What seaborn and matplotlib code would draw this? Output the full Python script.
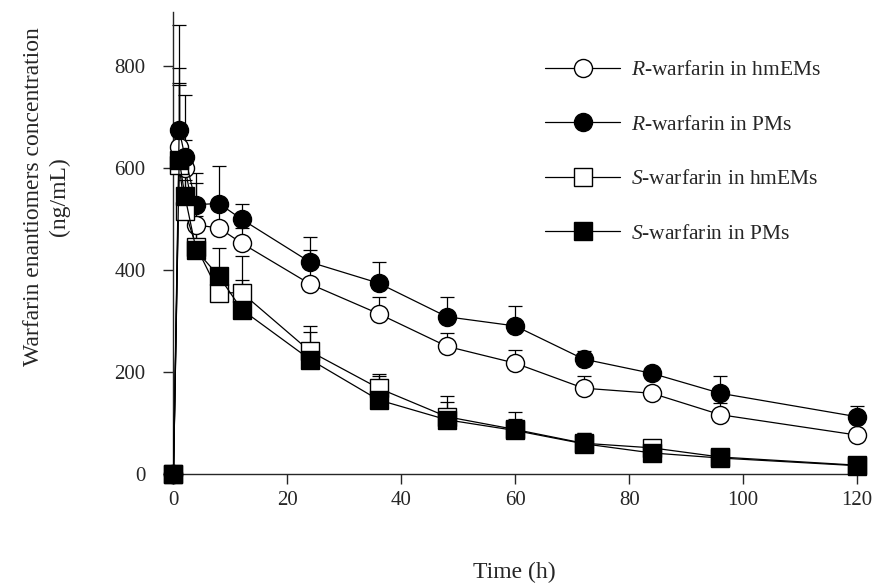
import numpy as np
import matplotlib
matplotlib.use("Agg")
import matplotlib.pyplot as plt
import seaborn as sns

# sampling times (h)
time = [0, 1, 2, 4, 8, 12, 24, 36, 48, 60, 72, 84, 96, 120]

# mean concentrations (ng/mL)
r_hmem = [0, 640, 600, 488, 482, 452, 372, 314, 250, 217, 168, 158, 116, 76]
r_pm = [0, 675, 622, 528, 530, 499, 415, 374, 308, 290, 225, 197, 158, 112]
s_hmem = [0, 605, 516, 445, 355, 355, 240, 168, 112, 87, 60, 51, 33, 17]
s_pm = [0, 616, 545, 438, 387, 322, 224, 145, 106, 85, 59, 41, 31, 16]

# upper SD bars
r_hmem_sd = [0, 156, 55, 82, 40, 30, 67, 32, 27, 26, 24, 0, 23, 10]
r_pm_sd = [0, 205, 121, 62, 73, 31, 50, 42, 38, 39, 15, 8, 34, 21]
s_hmem_sd = [0, 158, 60, 60, 45, 73, 50, 28, 40, 20, 20, 16, 8, 5]
s_pm_sd = [0, 150, 80, 50, 56, 58, 55, 46, 34, 37, 21, 10, 8, 5]

labels = [r"$\it{R}$-warfarin in hmEMs", r"$\it{R}$-warfarin in PMs",
          r"$\it{S}$-warfarin in hmEMs", r"$\it{S}$-warfarin in PMs"]

sns.set_style("ticks")
plt.rcParams["font.family"] = ["Liberation Serif", "DejaVu Serif"]
plt.rcParams["mathtext.fontset"] = "custom"
plt.rcParams["mathtext.it"] = "Liberation Serif:italic"
plt.rcParams["mathtext.rm"] = "Liberation Serif"

fig = plt.figure(figsize=(8.74, 5.85), dpi=100)
ax = fig.add_axes([0.1985, 0.19, 0.782, 0.789])

series = [
    (r_hmem, r_hmem_sd, "o", "white"),
    (r_pm, r_pm_sd, "o", "black"),
    (s_hmem, s_hmem_sd, "s", "white"),
    (s_pm, s_pm_sd, "s", "black"),
]

for (vals, sd, mk, face), lab in zip(series, labels):
    ax.errorbar(time, vals, yerr=[np.zeros(len(sd)), sd], fmt="none",
                ecolor="black", elinewidth=0.9, capsize=5, capthick=0.9,
                zorder=1, clip_on=False)
    sns.lineplot(x=time, y=vals, ax=ax, color="black", linewidth=0.9,
                 marker=mk, markersize=13, markerfacecolor=face,
                 markeredgecolor="black", markeredgewidth=1.0,
                 label=lab, clip_on=False, zorder=3)

ax.set_xlim(0, 120)
ax.set_ylim(0, 905)
ax.set_xticks(range(0, 121, 20))
ax.set_yticks(range(0, 801, 200))
sns.despine(ax=ax)
ax.spines["left"].set_linewidth(1.0)
ax.spines["bottom"].set_linewidth(1.0)
ax.tick_params(axis="y", direction="out", length=7, width=1.0, pad=13, labelsize=15)
ax.tick_params(axis="x", direction="out", length=7, width=1.0, pad=5, labelsize=15)

ax.set_xlabel("Time (h)", fontsize=17)
ax.xaxis.set_label_coords(0.498, -0.19)
ax.set_ylabel("Warfarin enantiomers concentration\n(ng/mL)", fontsize=17,
              linespacing=1.3)
ax.yaxis.set_label_coords(-0.152, 0.6)

leg = ax.legend(loc="upper left", bbox_to_anchor=(0.6236, 0.897),
                bbox_transform=fig.transFigure, frameon=False, fontsize=15.5,
                handlelength=3.5, handletextpad=0.5, labelspacing=1.6,
                borderpad=0, borderaxespad=0)

fig.savefig("out.png", dpi=100, facecolor="white")
